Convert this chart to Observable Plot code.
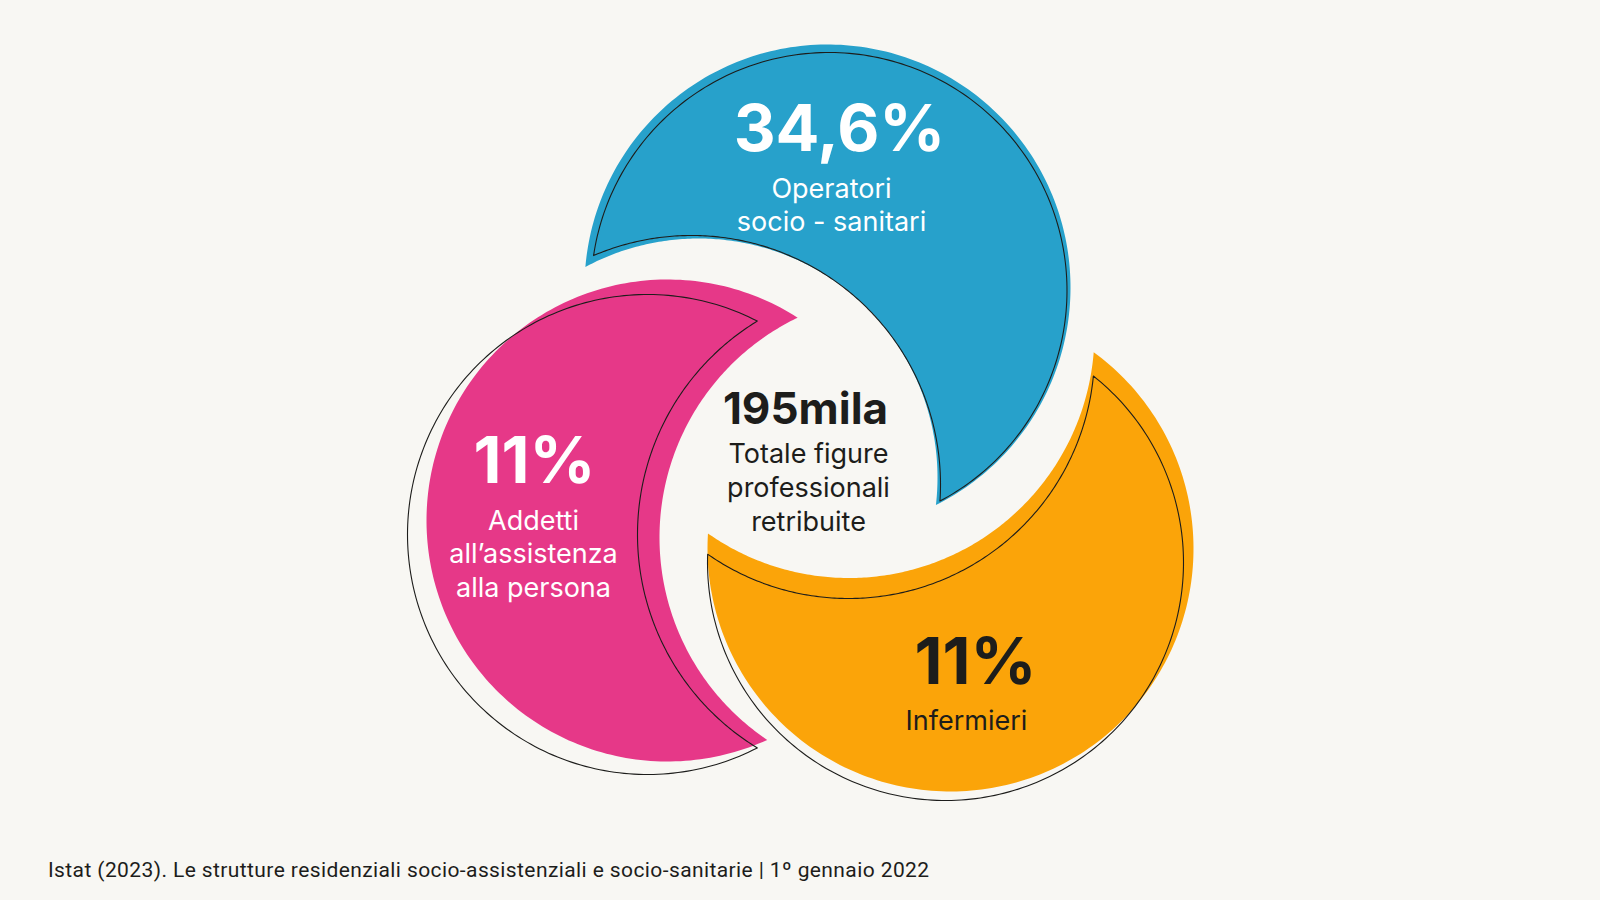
<!DOCTYPE html>
<html>
<head>
<meta charset="utf-8">
<script src="https://cdn.jsdelivr.net/npm/d3@7"></script>
<script src="https://cdn.jsdelivr.net/npm/@observablehq/plot@0.6"></script>
<style>
  html, body { margin: 0; padding: 0; background: #f8f7f3; }
  #chart { width: 1600px; }
  #source { margin: 0; padding: 8px 0 0 48px; font-family: Roboto, "Liberation Sans", sans-serif; font-size: 21px; line-height: 24px; color: #1d1d1b; letter-spacing: 0.4px; white-space: nowrap; }
</style>
</head>
<body>
<div id="chart"></div>
<div id="source"></div>
<script>
// ---------- DATA ----------
const categories = ["Operatori\nsocio - sanitari", "Addetti\nall’assistenza\nalla persona", "Infermieri"];
const shares = [34.6, 11, 11];                 // % of total
const totalThousands = 195;                    // total paid professionals (thousands)
const totalUnit = "mila";
const totalLabel = "Totale figure\nprofessionali\nretribuite";
const source = "Istat (2023). Le strutture residenziali socio-assistenziali e socio-sanitarie | 1º gennaio 2022";

// ---------- LAYOUT / STYLE (pixels) ----------
const W = 1600, H = 850;
const palette = ["#27a1cb", "#e63888", "#fba409"];
const inks = ["#ffffff", "#ffffff", "#1d1d1b"];
const dark = "#1d1d1b";
// crescent = disc "outer" minus disc "bite"; the thin black contour is a slightly shifted copy
const geometry = [
  {outer: [827, 287, 243], bite: [698, 477, 239], lineOuter: [828.5, 290, 238], lineBite: [691, 484, 249], value: [839, 150], label: [831, 197]},
  {outer: [667, 520, 241], bite: [903, 537, 244], lineOuter: [647, 534, 240], lineBite: [887, 534, 250], value: [534, 482], label: [533, 529]},
  {outer: [950, 548, 243], bite: [848.5, 332, 245.5], lineOuter: [945, 562, 238], lineBite: [848, 352, 246], value: [975, 683], label: [966, 729]}
];
const centre = {value: [805, 423], label: [808, 462]};
const valueSize = 65, labelSize = 27, labelStep = 33.5, totalSize = 44;
const numFont = "Inter, Lato, sans-serif";
const txtFont = "Inter, Lato, sans-serif";

function crescent([ax, ay, ra], [bx, by, rb], n = 200) {
  const dx = bx - ax, dy = by - ay, d = Math.hypot(dx, dy), phi = Math.atan2(dy, dx);
  const a = (ra * ra - rb * rb + d * d) / (2 * d);
  const alpha = Math.acos(a / ra), beta = Math.acos((d - a) / rb);
  const pts = [];
  for (let i = 0; i <= n; i++) {
    const t = phi + alpha + (2 * Math.PI - 2 * alpha) * i / n;
    pts.push({x: ax + ra * Math.cos(t), y: ay + ra * Math.sin(t)});
  }
  for (let i = 0; i <= n; i++) {
    const t = phi + Math.PI + beta - 2 * beta * i / n;
    pts.push({x: bx + rb * Math.cos(t), y: by + rb * Math.sin(t)});
  }
  pts.push(pts[0]);
  return pts;
}

const fmt = v => v.toLocaleString("it-IT", {maximumFractionDigits: 1}) + "%";
const nLines = s => s.split("\n").length;

const marks = [];
categories.forEach((cat, i) => {
  const g = geometry[i];
  marks.push(Plot.line(crescent(g.outer, g.bite), {x: "x", y: "y", fill: palette[i], stroke: null, curve: "linear"}));
  marks.push(Plot.line(crescent(g.lineOuter, g.lineBite), {x: "x", y: "y", fill: "none", stroke: "#1d1d1b", strokeWidth: 1.1, curve: "linear"}));
  marks.push(Plot.text([shares[i]], {
    x: () => g.value[0], y: () => g.value[1], text: d => fmt(d),
    fill: inks[i], fontSize: valueSize, fontWeight: 700, fontFamily: numFont,
    textAnchor: "middle", lineAnchor: "bottom", letterSpacing: "-1px"
  }));
  marks.push(Plot.text([cat], {
    x: () => g.label[0], y: () => g.label[1] + (nLines(cat) - 1) * labelStep, text: d => d,
    fill: inks[i], fontSize: labelSize, fontWeight: 400, fontFamily: txtFont,
    textAnchor: "middle", lineAnchor: "bottom", lineHeight: labelStep / labelSize
  }));
});
marks.push(Plot.text([totalThousands], {
  x: () => centre.value[0], y: () => centre.value[1], text: d => d + totalUnit,
  fill: dark, fontSize: totalSize, fontWeight: 700, fontFamily: numFont,
  textAnchor: "middle", lineAnchor: "bottom"
}));
marks.push(Plot.text([totalLabel], {
  x: () => centre.label[0], y: () => centre.label[1] + (nLines(totalLabel) - 1) * 34, text: d => d,
  fill: dark, fontSize: labelSize, fontWeight: 400, fontFamily: txtFont,
  textAnchor: "middle", lineAnchor: "bottom", lineHeight: 34 / labelSize
}));

const chart = Plot.plot({
  width: W, height: H,
  margin: 0,
  x: {domain: [0, W], range: [0, W], axis: null},
  y: {domain: [0, H], range: [0, H], axis: null},
  style: {background: "transparent", overflow: "visible"},
  marks
});
document.getElementById("chart").appendChild(chart);
document.getElementById("source").textContent = source;
</script>
</body>
</html>
